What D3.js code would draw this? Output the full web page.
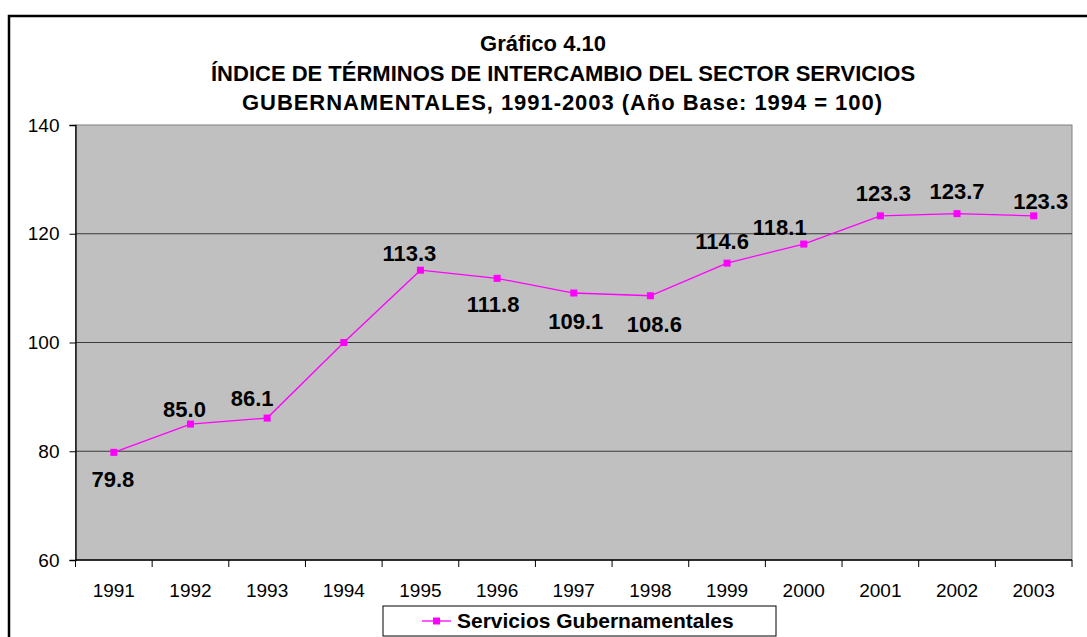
<!DOCTYPE html>
<html>
<head>
<meta charset="utf-8">
<script src="https://cdn.jsdelivr.net/npm/d3@7"></script>
<style>
  html, body { margin: 0; padding: 0; background: #fff; }
  svg { display: block; font-family: "Liberation Sans", Arial, sans-serif; }
</style>
</head>
<body>
<svg id="chart" width="1087" height="637"></svg>
<script>
// Years on the category axis
const years = ["1991", "1992", "1993", "1994", "1995", "1996", "1997",
               "1998", "1999", "2000", "2001", "2002", "2003"];
// Terms-of-trade index, government services (1994 = 100)
const indexValues = [79.8, 85.0, 86.1, 100.0, 113.3, 111.8, 109.1,
                     108.6, 114.6, 118.1, 123.3, 123.7, 123.3];
// Which points carry a value label (1994 is the base year, left unlabelled)
const showLabel = [true, true, true, false, true, true, true,
                   true, true, true, true, true, true];
// Label placement relative to its point [dx, dy]
const labelOffsets = [[-1, 27], [-6, -15], [-15, -20], [0, 0], [-11, -17],
                      [-4, 26], [2, 28], [4, 28], [-5, -22], [-24, -17],
                      [3, -23], [0, -23], [7, -15]];
const yTicks = [60, 80, 100, 120, 140];
const titleLines = ["Gráfico 4.10",
                    "ÍNDICE DE TÉRMINOS DE INTERCAMBIO DEL SECTOR SERVICIOS",
                    "GUBERNAMENTALES, 1991-2003 (Año Base: 1994 = 100)"];
const seriesName = "Servicios Gubernamentales";

const svg = d3.select("#chart");
const plot = { left: 75.5, right: 1072, top: 125, bottom: 560 };
const magenta = "#FF00FF";

// Outer frame (only top and left edges fall inside the page)
svg.append("rect")
  .attr("x", 9).attr("y", 16).attr("width", 1200).attr("height", 700)
  .attr("fill", "none").attr("stroke", "#000").attr("stroke-width", 2.5);

// Title, three lines
const titleLayout = [
  { x: 543, y: 51, anchor: "middle", len: null },
  { x: 211, y: 81, anchor: "start", len: null },
  { x: 242, y: 110, anchor: "start", len: 640 }
];
const title = svg.append("g");
titleLines.forEach((t, i) => {
  const L = titleLayout[i];
  const el = title.append("text")
    .attr("x", L.x).attr("y", L.y)
    .attr("text-anchor", L.anchor)
    .attr("font-size", 22).attr("font-weight", "bold")
    .text(t);
  if (L.len) el.attr("textLength", L.len).attr("lengthAdjust", "spacing");
});

const x = d3.scaleBand().domain(years).range([plot.left, plot.right]);
const y = d3.scaleLinear().domain([60, 140]).range([plot.bottom, plot.top]);

// Plot background
svg.append("rect")
  .attr("x", plot.left).attr("y", plot.top)
  .attr("width", plot.right - plot.left).attr("height", plot.bottom - plot.top)
  .attr("fill", "#C0C0C0").attr("stroke", "#808080").attr("stroke-width", 1);

// Gridlines
svg.append("g").selectAll("line").data(yTicks.filter(t => t > 60 && t < 140)).join("line")
  .attr("x1", plot.left).attr("x2", plot.right)
  .attr("y1", d => y(d)).attr("y2", d => y(d))
  .attr("stroke", "#3a3a3a").attr("stroke-width", 1);

// Y axis
const yAxis = svg.append("g")
  .attr("transform", `translate(${plot.left},0)`)
  .call(d3.axisLeft(y).tickValues(yTicks).tickSize(6).tickPadding(10).tickFormat(d3.format("d")));
yAxis.select(".domain").attr("stroke", "#000").attr("stroke-width", 1.3);
yAxis.selectAll(".tick line").attr("stroke", "#000");
yAxis.selectAll("text").attr("font-size", 19).attr("fill", "#000")
  .attr("font-family", "Liberation Sans, Arial, sans-serif");

// X axis with ticks on category boundaries
const xAxisG = svg.append("g").attr("transform", `translate(0,${plot.bottom})`);
xAxisG.append("line")
  .attr("x1", plot.left).attr("x2", plot.right)
  .attr("stroke", "#000").attr("stroke-width", 1.3);
const boundaries = years.map(d => x(d)).concat([x(years[years.length - 1]) + x.bandwidth()]);
xAxisG.selectAll(".bt").data(boundaries).join("line")
  .attr("class", "bt")
  .attr("x1", d => d).attr("x2", d => d).attr("y1", 0).attr("y2", 7)
  .attr("stroke", "#000");
xAxisG.selectAll(".yl").data(years).join("text")
  .attr("class", "yl")
  .attr("x", d => x(d) + x.bandwidth() / 2).attr("y", 37)
  .attr("text-anchor", "middle").attr("font-size", 19)
  .text(d => d);

// Series line
const cx = d => x(d) + x.bandwidth() / 2;
const line = d3.line().x((d, i) => cx(years[i])).y(d => y(d));
svg.append("path").datum(indexValues)
  .attr("d", line).attr("fill", "none")
  .attr("stroke", magenta).attr("stroke-width", 1.3);

// Square markers
svg.append("g").selectAll("rect").data(indexValues).join("rect")
  .attr("x", (d, i) => cx(years[i]) - 3.5).attr("y", d => y(d) - 3.5)
  .attr("width", 7).attr("height", 7).attr("fill", magenta);

// Value labels
svg.append("g").selectAll("text")
  .data(indexValues.map((v, i) => ({ v, i })).filter(d => showLabel[d.i]))
  .join("text")
  .attr("x", d => cx(years[d.i]) + labelOffsets[d.i][0])
  .attr("y", d => y(d.v) + labelOffsets[d.i][1])
  .attr("dy", "0.36em")
  .attr("text-anchor", "middle")
  .attr("font-size", 22).attr("font-weight", "bold")
  .text(d => d.v.toFixed(1));

// Legend
const legend = svg.append("g");
legend.append("rect")
  .attr("x", 383).attr("y", 606).attr("width", 393).attr("height", 30)
  .attr("fill", "#fff").attr("stroke", "#000").attr("stroke-width", 1);
legend.append("line")
  .attr("x1", 422).attr("x2", 451).attr("y1", 621).attr("y2", 621)
  .attr("stroke", magenta).attr("stroke-width", 1.3);
legend.append("rect")
  .attr("x", 433).attr("y", 617.5).attr("width", 7).attr("height", 7)
  .attr("fill", magenta);
legend.append("text")
  .attr("x", 457).attr("y", 628)
  .attr("font-size", 21).attr("font-weight", "bold")
  .text(seriesName);
</script>
</body>
</html>
